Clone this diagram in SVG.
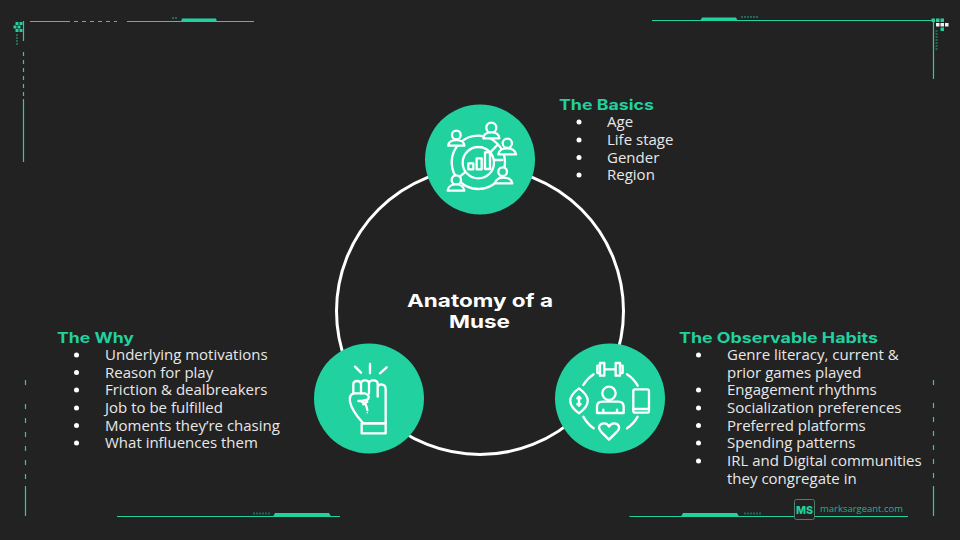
<svg xmlns="http://www.w3.org/2000/svg" width="960" height="540" viewBox="0 0 960 540">
<style>
.t{font-family:"Open Sans","Noto Sans",sans-serif;font-size:15px;fill:#e8e8e8}
.h{font-family:"Inter","Liberation Sans",sans-serif;font-size:14.5px;font-weight:700;fill:#21d19f}
.c{font-family:"Inter","Liberation Sans",sans-serif;font-size:18px;font-weight:700;fill:#fff}
.b{fill:#fff}
.g{stroke:#21d19f;stroke-width:1.2;fill:none}
.i{fill:none;stroke:#fff;stroke-width:7;stroke-linecap:round;stroke-linejoin:round}
.m{fill:#21d19f;stroke:#fff;stroke-width:7;stroke-linecap:round;stroke-linejoin:round}
.n{fill:#21d19f}
.p{fill:#21d19f}
.d{stroke:#1b6b55;stroke-width:2;fill:none;stroke-dasharray:2 1}
</style>
<rect width="960" height="540" fill="#222222"/>
<g id="decor">
<path class="g" d="M30 21.500H70M127 21.500H254M23.500 21V41M23.500 99V162"/>
<path class="g" d="M74 21.500H117" stroke-dasharray="4 4"/>
<path class="g" d="M23.500 52V96" stroke-dasharray="4 4"/>
<path class="p" d="M181 21.800L182 18.500H216L217 21.800Z"/>
<path class="d" d="M172 18h5"/>
<path class="p" d="M15.500 22h3v3h-3zM19.500 22h3v3h-3zM13.500 25.500h3v3h-3zM17.500 25.500h3v3h-3zM15.500 29h3v3h-3zM19.500 29h3v3h-3z"/>
<path class="d" d="M17 34V46" stroke-dasharray="2 2"/>
<path class="g" d="M652 20.500H932M933.500 21V79"/>
<path class="p" d="M700.500 20.500L702 17.500H736L737.500 20.500Z"/>
<path class="d" d="M741 17h18"/>
<path class="p" d="M931.500 18.500h3.500v3.500h-3.500zM936 18.500h3.500v3.500h-3.500zM940.500 18.500h3.500v3.500h-3.500zM940.500 27.500h3.500v3.500h-3.500z"/>
<path fill="#f0f0f0" d="M936 23h3.500v3.500h-3.500zM940.500 23h3.500v3.500h-3.500zM945 23h3.500v3.500h-3.500z"/>
<path class="d" d="M936.500 30V50" stroke-width="1" stroke-dasharray="1.500 2"/>
<path class="g" d="M25.500 380V385M25.500 486V516M933.500 380V385M933.500 486V516"/>
<path class="g" d="M25.500 404V480" stroke-dasharray="5 9"/>
<path class="g" d="M933.500 403V480" stroke-dasharray="5 9"/>
<path class="g" d="M117 516.500H340M629.500 516.500H908"/>
<path class="p" d="M273 516.500L275 513H329L331 516.500Z"/>
<path class="d" d="M253 513.500h17"/>
<path class="p" d="M681 516.500L683 513H737L739 516.500Z"/>
<path class="d" d="M744 513.500h17"/>
</g>
<g id="connectors">
<circle cx="480" cy="311" r="143.500" fill="none" stroke="#fff" stroke-width="3"/>
</g>
<g id="center"><text class="c" x="407" y="307" textLength="146" lengthAdjust="spacingAndGlyphs">Anatomy of a</text><text class="c" x="449" y="328" textLength="61" lengthAdjust="spacingAndGlyphs">Muse</text></g>
<g id="node-basics">
<circle class="n" cx="480" cy="159.500" r="55"/>
<g transform="translate(415 95) scale(.3333)">
<circle class="i" cx="190" cy="202" r="80"/>
<circle class="i" cx="190" cy="203" r="47"/>
<path class="i" d="M160 205h15v18h-15zM185 190h15v33h-15zM210 172h15v50h-15z"/>
<path class="i" d="M247 150L226 172M238 195H262M150 232L125 252"/>
<circle class="m" cx="124" cy="120" r="13"/><path class="m" d="M100 152C100 130 148 130 148 152Z"/>
<circle class="m" cx="229" cy="98" r="15"/><path class="m" d="M205 130C205 106 253 106 253 130Z"/>
<circle class="m" cx="277" cy="145" r="14"/><path class="m" d="M250 178C252 154 300 154 303 178Z"/>
<circle class="m" cx="263" cy="230" r="13"/><path class="m" d="M240 265C242 242 290 242 292 265Z"/>
<circle class="m" cx="124" cy="255" r="14"/><path class="m" d="M98 287C100 262 146 262 148 287Z"/>
</g>
<text class="h" x="559" y="109.500" textLength="95" lengthAdjust="spacingAndGlyphs">The Basics</text>
<circle class="b" cx="579" cy="122" r="2.500"/><text class="t" x="607" y="127">Age</text>
<circle class="b" cx="579" cy="140" r="2.500"/><text class="t" x="607" y="145">Life stage</text>
<circle class="b" cx="579" cy="157.500" r="2.500"/><text class="t" x="607" y="162.500">Gender</text>
<circle class="b" cx="579" cy="175" r="2.500"/><text class="t" x="607" y="180">Region</text>
</g>
<g id="node-why">
<circle class="n" cx="369" cy="398.500" r="55"/>
<g transform="translate(305 335) scale(.3333)">
<path class="i" d="M150 95L168 113M195 87V115M245 97L225 115"/>
<path class="i" d="M145 175V148Q145 138 157 138Q168 138 168 148V175M168 170V146Q168 136 180 136Q192 136 192 146V175M192 172V146Q192 136 205 136Q218 136 218 146V185M218 160Q218 148 230 148Q242 150 242 162V265"/>
<path class="i" d="M145 175Q132 180 135 200Q140 225 172 262V265H242M145 175H180Q195 180 190 192Q180 198 160 198M170 200Q185 205 187 225M187 200L175 208"/>
<path class="i" d="M170 265H242V295H170Z"/>
<circle cx="187" cy="233" r="2.500" fill="#fff"/>
</g>
<text class="h" x="57" y="342.500" textLength="77" lengthAdjust="spacingAndGlyphs">The Why</text>
<circle class="b" cx="76.500" cy="355" r="2.500"/><text class="t" x="105" y="360">Underlying motivations</text>
<circle class="b" cx="76.500" cy="372.500" r="2.500"/><text class="t" x="105" y="377.500">Reason for play</text>
<circle class="b" cx="76.500" cy="390" r="2.500"/><text class="t" x="105" y="395">Friction &amp; dealbreakers</text>
<circle class="b" cx="76.500" cy="408" r="2.500"/><text class="t" x="105" y="413">Job to be fulfilled</text>
<circle class="b" cx="76.500" cy="425.500" r="2.500"/><text class="t" x="105" y="430.500">Moments they’re chasing</text>
<circle class="b" cx="76.500" cy="443" r="2.500"/><text class="t" x="105" y="448">What influences them</text>
</g>
<g id="node-habits">
<circle class="n" cx="610" cy="398.500" r="55"/>
<g transform="translate(545 335) scale(.3333)">
<path class="i" d="M165 84H178V122H165ZM212 84H225V122H212ZM178 103H212M165 92H157V114H165M225 92H233V114H225"/>
<path class="i" d="M115 150A100 100 0 0 1 146 118M246 118A100 100 0 0 1 278 152M115 245A100 100 0 0 0 146 280M278 245A100 100 0 0 1 246 280"/>
<rect class="i" x="265" y="163" width="47" height="70" rx="5"/><path class="i" d="M265 222H312"/>
<circle class="i" cx="192" cy="175" r="20"/>
<path class="i" d="M156 234V215Q156 200 172 200H220Q236 200 236 215V234ZM175 234V224M216 234V224"/>
<path class="i" d="M192 314L170 292C155 275 165 265 178 265C185 265 190 270 192 275C195 270 200 265 207 265C220 265 230 278 214 292Z"/>
<path class="i" d="M102 160C67 185 67 210 102 235C137 210 137 185 102 160ZM102 185V212M97 190L102 185L107 190M97 207L102 212L107 207"/>
</g>
<text class="h" x="679" y="342.500" textLength="199" lengthAdjust="spacingAndGlyphs">The Observable Habits</text>
<circle class="b" cx="698.500" cy="355" r="2.500"/><text class="t" x="727" y="360">Genre literacy, current &amp;</text>
<text class="t" x="727" y="377.500">prior games played</text>
<circle class="b" cx="698.500" cy="390" r="2.500"/><text class="t" x="727" y="395">Engagement rhythms</text>
<circle class="b" cx="698.500" cy="408" r="2.500"/><text class="t" x="727" y="413">Socialization preferences</text>
<circle class="b" cx="698.500" cy="425.500" r="2.500"/><text class="t" x="727" y="430.500">Preferred platforms</text>
<circle class="b" cx="698.500" cy="443" r="2.500"/><text class="t" x="727" y="448">Spending patterns</text>
<circle class="b" cx="698.500" cy="461" r="2.500"/><text class="t" x="727" y="466">IRL and Digital communities</text>
<text class="t" x="727" y="483.500">they congregate in</text>
</g>
<g id="logo">
<rect x="794.500" y="499.500" width="20" height="20" rx="2" fill="#222" stroke="#4f7f70"/>
<text x="796" y="513.500" textLength="17" lengthAdjust="spacingAndGlyphs" font-family="Inter,'Liberation Sans',sans-serif" font-weight="800" font-size="10.500" fill="#21d19f">MS</text>
<text x="820" y="512" textLength="83" lengthAdjust="spacingAndGlyphs" font-family="'Open Sans',sans-serif" font-size="9" fill="#1fb28a">marksargeant.com</text>
</g>
</svg>
